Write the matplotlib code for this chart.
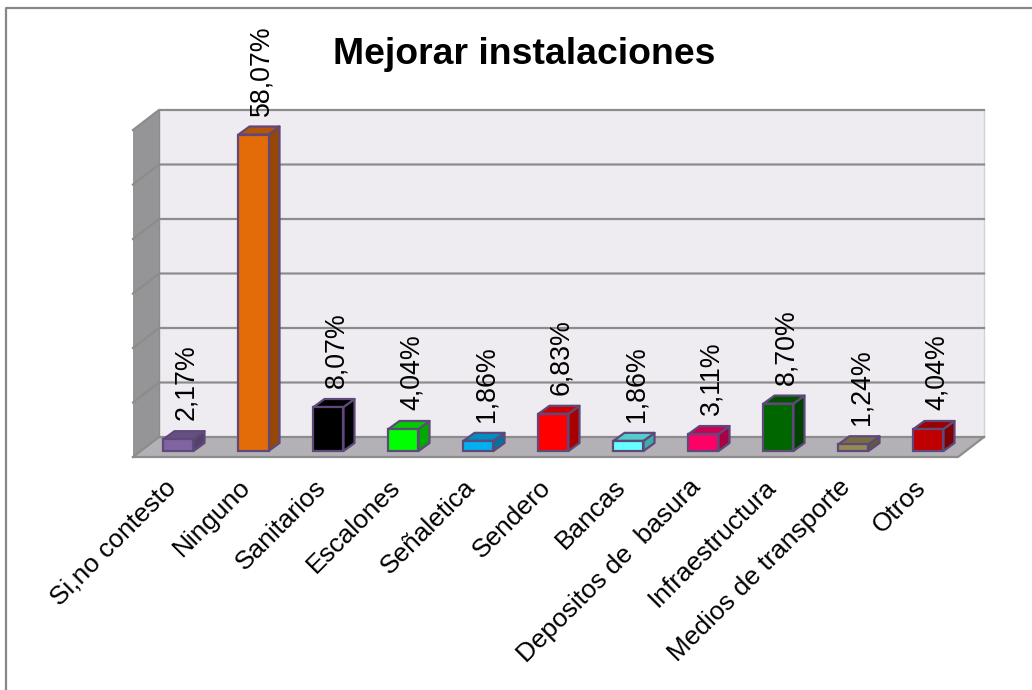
import matplotlib
matplotlib.use("Agg")
import matplotlib.pyplot as plt
from matplotlib.patches import Polygon
from matplotlib.lines import Line2D
from matplotlib.colors import to_rgb

categories = ["Si,no contesto", "Ninguno", "Sanitarios", "Escalones", "Señaletica", "Sendero",
              "Bancas", "Depositos de  basura", "Infraestructura", "Medios de transporte", "Otros"]
values = [2.17, 58.07, 8.07, 4.04, 1.86, 6.83, 1.86, 3.11, 8.70, 1.24, 4.04]
labels = ["2,17%", "58,07%", "8,07%", "4,04%", "1,86%", "6,83%", "1,86%", "3,11%", "8,70%", "1,24%", "4,04%"]
colors = ["#8064A2", "#E36C09", "#000000", "#00FF00", "#00B0F0", "#FF0000",
          "#66FFFF", "#FF0066", "#006600", "#948A54", "#C00000"]
grid_values = [0, 10, 20, 30, 40, 50, 60]

W, H = 1032, 690
PX_CAT, PX_VAL = 75.0, 5.45     # pixels per category and per value unit
X0_PX, Y0_PX = 178.5, 451.0     # pixel position of category 0 centre and value 0

plt.rcParams["font.family"] = ["Liberation Sans", "DejaVu Sans"]
fig = plt.figure(figsize=(W / 100, H / 100), dpi=100, facecolor="white")
ax = fig.add_axes([0, 0, 1, 1])
ax.set_xlim(-X0_PX / PX_CAT, (W - X0_PX) / PX_CAT)
ax.set_ylim(-(H - Y0_PX) / PX_VAL, Y0_PX / PX_VAL)
ax.axis("off")

dx_wall, dy_wall = 26 / PX_CAT, 20 / PX_VAL
dx_bar, dy_bar = 11 / PX_CAT, 8 / PX_VAL
front_left = -45.5 / PX_CAT
front_right = front_left + len(categories)
y_front = -6 / PX_VAL
top = y_front + grid_values[-1]
GRID = "#8C8C8C"


def poly(pts, fc, ec="none", lw=0, z=1):
    ax.add_patch(Polygon(pts, closed=True, facecolor=fc, edgecolor=ec, linewidth=lw, zorder=z, joinstyle="round"))


# back wall, floor, left wall
poly([(front_left + dx_wall, y_front + dy_wall), (front_right + dx_wall, y_front + dy_wall),
      (front_right + dx_wall, top + dy_wall), (front_left + dx_wall, top + dy_wall)], "#EEECF1", z=1)
ax.plot([front_right + dx_wall] * 2, [y_front + dy_wall, top + dy_wall], color="#D2D2D6", lw=1, zorder=1.1)
poly([(front_left, y_front), (front_right, y_front), (front_right + dx_wall, y_front + dy_wall),
      (front_left + dx_wall, y_front + dy_wall)], "#B3B1B5", z=1.2)
poly([(front_left, y_front), (front_left + dx_wall, y_front + dy_wall),
      (front_left + dx_wall, top + dy_wall), (front_left, top)], "#959597", z=1.2)

for g in grid_values:
    y = y_front + g
    ax.plot([front_left, front_left + dx_wall, front_right + dx_wall],
            [y, y + dy_wall, y + dy_wall], color=GRID, lw=1.6, zorder=1.5, solid_joinstyle="round")
ax.plot([front_left, front_right, front_right + dx_wall],
        [y_front, y_front, y_front + dy_wall], color=GRID, lw=1.6, zorder=1.5)
ax.plot([front_left + dx_wall] * 2, [y_front + dy_wall, top + dy_wall], color=GRID, lw=1.0, zorder=1.5)


def shade(c, f):
    return tuple(v * f for v in to_rgb(c))


width = 30 / PX_CAT
EDGE = "#5F497A"
for i, (v, c) in enumerate(zip(values, colors)):
    l, r = i - width / 2, i + width / 2
    poly([(r, 0), (r + dx_bar, dy_bar), (r + dx_bar, v + dy_bar), (r, v)], shade(c, 0.66), EDGE, 1.6, 3)
    poly([(l, v), (r, v), (r + dx_bar, v + dy_bar), (l + dx_bar, v + dy_bar)], shade(c, 0.8), EDGE, 1.6, 3)
ax.bar(range(len(values)), values, width=width, color=colors, edgecolor=EDGE, linewidth=1.6, zorder=4)

for i, (v, t) in enumerate(zip(values, labels)):
    ax.text(i + 8 / PX_CAT, v + dy_bar + 11 / PX_VAL, t, rotation=90, ha="center", va="bottom",
            fontsize=19.3, color="black", zorder=5)

for i, c in enumerate(categories):
    ax.text(i - 15 / PX_CAT, -24 / PX_VAL, c, rotation=45, rotation_mode="anchor", ha="right", va="top",
            fontsize=18.9, color="black", zorder=5)

ax.text((524 - X0_PX) / PX_CAT, (Y0_PX - 54) / PX_VAL, "Mejorar instalaciones", ha="center", va="center",
        fontsize=26.9, fontweight="bold", color="black", zorder=5)

# chart border
fig.add_artist(Line2D([6 / W, 6 / W, 1], [0, 1 - 7.5 / H, 1 - 7.5 / H], color="#878787", lw=1.6))

fig.savefig("out.png", dpi=100)
